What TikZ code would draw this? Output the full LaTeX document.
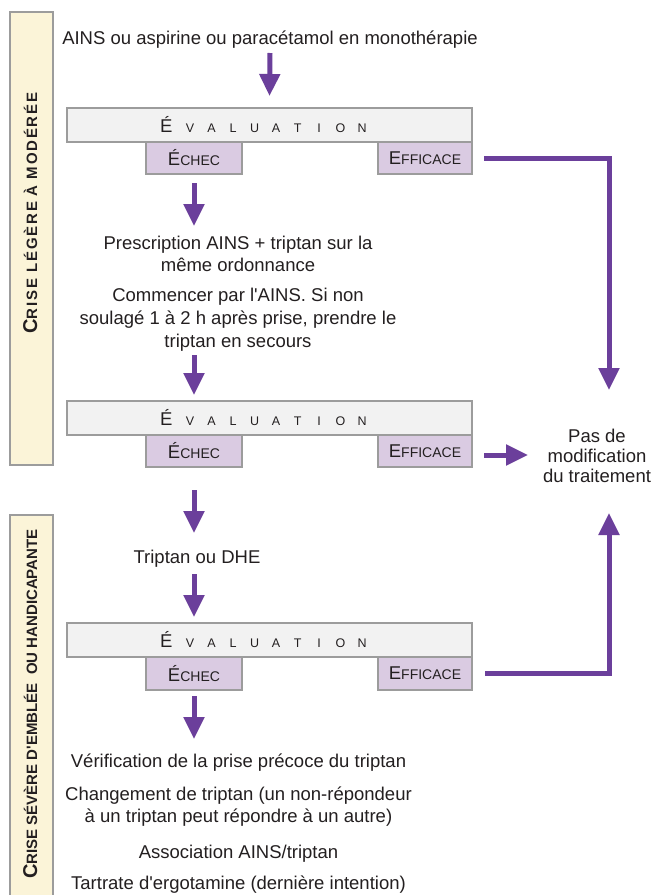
\documentclass[tikz,border=0pt]{standalone}
\usepackage{fontspec}
\setmainfont{Liberation Sans}
\newfontfamily\sidefontA[LetterSpace=12]{Liberation Sans}
\newfontfamily\sidefontB{Liberation Sans}
\usetikzlibrary{arrows.meta}
\definecolor{barfill}{HTML}{FBF4D8}
\definecolor{bordergray}{HTML}{9C9C9C}
\definecolor{evalfill}{HTML}{F2F2F2}
\definecolor{lav}{HTML}{DACBE2}
\definecolor{purp}{HTML}{6B3F9B}
\definecolor{txt}{HTML}{231F20}
\newcommand\sqap{{\addfontfeatures{Ligatures=TeXOff}'}}
\newcommand\evbx[1]{\makebox[21.5pt]{#1}}
\newcommand\evword{{\fontsize{18.5}{18.5}\selectfont É}\hspace{7pt}{\fontsize{12.5}{12.5}\selectfont\evbx{V}\evbx{A}\evbx{L}\evbx{U}\evbx{A}\evbx{T}\evbx{I}\evbx{O}\evbx{N}}}
\newcommand\echecword{{\fontsize{18.5}{18.5}\selectfont É}{\fontsize{14}{14}\selectfont CHEC}}
\newcommand\efficaceword{{\fontsize{18.5}{18.5}\selectfont E}{\fontsize{14}{14}\selectfont FFICACE}}
\begin{document}
\begin{tikzpicture}[x=1pt,y=-1pt,
  bar/.style={draw=bordergray, fill=barfill, line width=1.8pt, minimum width=43pt, inner sep=0pt, outer sep=0pt},
  evbox/.style={draw=bordergray, fill=evalfill, line width=1.8pt, minimum width=405pt, minimum height=34pt, inner sep=0pt, outer sep=0pt},
  resbox/.style={draw=bordergray, fill=lav, line width=1.8pt, minimum height=32pt, inner sep=0pt, outer sep=0pt, text=txt},
  lbl/.style={inner sep=0pt, outer sep=0pt, font=\fontsize{18.5}{22}\selectfont, text=txt, anchor=base},
  evlbl/.style={inner sep=0pt, outer sep=0pt, text=txt, anchor=base west},
  sidelbl/.style={inner sep=0pt, outer sep=0pt, text=txt, rotate=90, anchor=base},
  arr/.style={draw=purp, line width=5pt, -{Triangle[width=20pt,length=22pt]}}
]
\useasboundingbox (0,0) rectangle (654,895);
\fill[white] (0,0) rectangle (654,895);

% side bars
\node[bar, minimum height=453pt] (bar1) at (31.5,238.5) {};
\node[bar, minimum height=400pt] (bar2) at (31.5,715) {};
\node[sidelbl] (s1) at (37,213) {\sidefontA\bfseries{\fontsize{20}{20}\selectfont C}{\fontsize{15}{15}\selectfont RISE LÉGÈRE À MODÉRÉE}};
\node[sidelbl] (s2) at (37,704) {\sidefontB\bfseries{\fontsize{20}{20}\selectfont C}{\fontsize{15}{15}\selectfont RISE SÉVÈRE D\sqap EMBLÉE\ \ OU HANDICAPANTE}};

% top text
\node[lbl] (t0) at (270,44) {AINS ou aspirine ou paracétamol en monothérapie};

% evaluation 1
\node[evbox] (ev1) at (269.5,125) {};
\node[evlbl] (e1) at (160,132) {\evword};
\node[resbox, minimum width=96pt] (ech1) at (194,158) {\echecword};
\node[resbox, minimum width=94pt] (eff1) at (425,158) {\efficaceword};

% block 1 texts
\node[lbl] (p1) at (238,249) {Prescription AINS + triptan sur la};
\node[lbl] (p2) at (238,271) {même ordonnance};
\node[lbl] (c1) at (238,301) {Commencer par l\sqap AINS. Si non};
\node[lbl] (c2) at (238,324) {soulagé 1 à 2 h après prise, prendre le};
\node[lbl] (c3) at (238,347) {triptan en secours};

% evaluation 2
\node[evbox] (ev2) at (269.5,418) {};
\node[evlbl] (e2) at (160,425) {\evword};
\node[resbox, minimum width=96pt] (ech2) at (194,451) {\echecword};
\node[resbox, minimum width=94pt] (eff2) at (425,451) {\efficaceword};

% result
\node[lbl] (pas1) at (597,442) {Pas de};
\node[lbl] (pas2) at (597,462) {modification};
\node[lbl] (pas3) at (597,482) {du traitement};

% block 2
\node[lbl] (tdhe) at (197,563) {Triptan ou DHE};

% evaluation 3
\node[evbox] (ev3) at (269.5,640) {};
\node[evlbl] (e3) at (160,647) {\evword};
\node[resbox, minimum width=96pt, minimum height=33pt] (ech3) at (194,673.5) {\echecword};
\node[resbox, minimum width=94pt, minimum height=33pt] (eff3) at (425,673.5) {\efficaceword};

% bottom texts
\node[lbl] (v1) at (238.5,767) {Vérification de la prise précoce du triptan};
\node[lbl] (v2) at (238.5,800) {Changement de triptan (un non-répondeur};
\node[lbl] (v3) at (238.5,822) {à un triptan peut répondre à un autre)};
\node[lbl] (v4) at (238.5,858) {Association AINS/triptan};
\node[lbl] (v5) at (238.5,889) {Tartrate d\sqap ergotamine (dernière intention)};

% coordinates for right connectors
\coordinate (k1) at (609,390);
\coordinate (k3) at (609,513);

% arrows
\draw[arr] ([yshift=-9pt]t0.base) -- ([yshift=12pt]ev1.north);
\draw[arr] ([yshift=-9pt]ech1.south) -- ([yshift=23pt]p1.base -| ech1.south);
\draw[arr] ([yshift=-8pt]c3.base -| ech1.south) -- ([yshift=6pt]ev2.north -| ech1.south);
\draw[arr] ([yshift=-23pt]ech2.south) -- ([yshift=30pt]tdhe.base -| ech2.south);
\draw[arr] ([yshift=-11pt]tdhe.base -| ech2.south) -- ([yshift=6pt]ev3.north -| ech3.south);
\draw[arr] ([yshift=-6pt]ech3.south) -- ([yshift=28pt]v1.base -| ech3.south);

\draw[arr] ([xshift=12pt]eff1.east) -| (k1);
\draw[arr] ([xshift=12pt,yshift=-4pt]eff2.east) -- ([xshift=56pt,yshift=-4pt]eff2.east);
\draw[arr] ([xshift=13pt]eff3.east) -| (k3);
\end{tikzpicture}
\end{document}
